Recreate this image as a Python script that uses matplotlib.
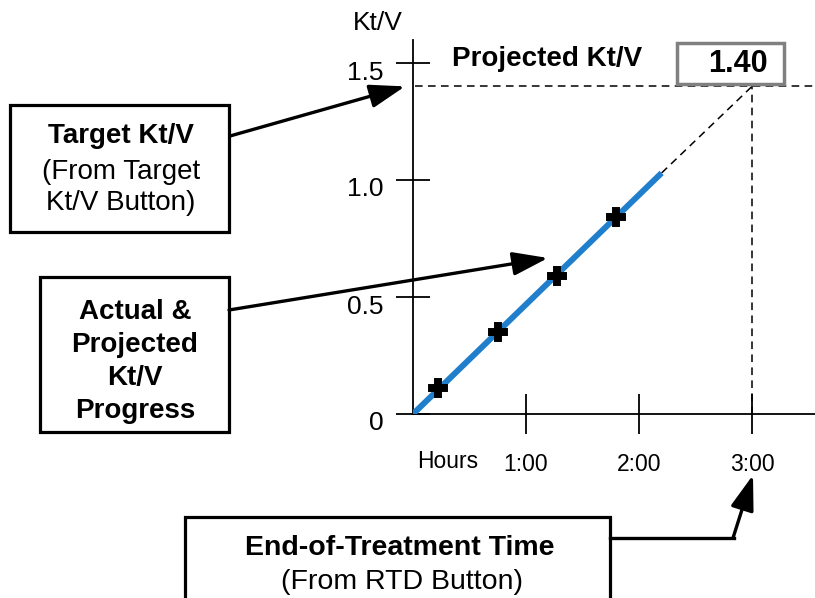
import matplotlib
matplotlib.use('Agg')
import matplotlib.pyplot as plt
from matplotlib.patches import Rectangle, FancyArrowPatch
from matplotlib.lines import Line2D
from matplotlib.transforms import ScaledTranslation

plt.rcParams['font.family'] = ['Liberation Sans', 'DejaVu Sans']

# Kt/V progress over the treatment
measured_hours = [0.22, 0.75, 1.27, 1.80]
measured_ktv = [0.11, 0.35, 0.59, 0.84]
actual_hours = [0.0, 2.2]
actual_ktv = [0.0, 1.03]
projected_hours = [2.2, 3.0]
projected_ktv = [1.03, 1.40]
target_ktv = 1.40
end_time = 3.0

y_ticks = [0, 0.5, 1.0, 1.5]
y_labels = ['0', '0.5', '1.0', '1.5']
x_ticks = [1, 2, 3]
x_labels = ['1:00', '2:00', '3:00']

W, H = 815, 598
fig = plt.figure(figsize=(W / 100, H / 100), dpi=100)


def fpos(x, y):
    # pixel position -> figure fraction
    return (x / W, 1 - y / H)


# origin of the chart in pixels and pixels per unit
ox, oy = 413, 414
px_hour, px_unit = 113, 234
top = 40

ax = fig.add_axes([ox / W, 1 - oy / H, (W - ox) / W, (oy - top) / H])
ax.set_xlim(0, (W - ox) / px_hour)
ax.set_ylim(0, (oy - top) / px_unit)
for s in ['top', 'right']:
    ax.spines[s].set_visible(False)
for s in ['left', 'bottom']:
    ax.spines[s].set_linewidth(1.3)
ax.patch.set_alpha(0)

ax.set_yticks(y_ticks, y_labels)
ax.set_xticks(x_ticks, x_labels)
ax.tick_params(axis='y', direction='inout', length=25, width=1.3,
               labelsize=19, pad=8.4)
ax.tick_params(axis='x', direction='inout', length=28.8, width=1.3,
               labelsize=16.5, pad=13.6)
shift = ScaledTranslation(0, -7 / 100, fig.dpi_scale_trans)
for lab in ax.get_yticklabels():
    lab.set_transform(lab.get_transform() + shift)

# dashed guides
dash = dict(color='black', lw=1.1, dashes=(5, 3.5), clip_on=False)
ax.axhline(target_ktv, xmin=0.005, xmax=1, **dash)
ax.plot([end_time, end_time], [0, target_ktv], **dash)
ax.plot(projected_hours, projected_ktv, **dash)

# actual progress and measurements
ax.plot(actual_hours, actual_ktv, color='#1f7fcc', lw=4.3,
        solid_capstyle='butt', zorder=3)
ax.plot(measured_hours, measured_ktv, 'P', color='black', markersize=13,
        markeredgewidth=1.4, zorder=4)

# axis titles
fig.text(*fpos(378, 23), 'Kt/V', fontsize=19, ha='center', va='center')
fig.text(*fpos(448, 461), 'Hours', fontsize=16.5, ha='center', va='center')

# projected value
fig.text(*fpos(547, 59), 'Projected Kt/V', fontsize=20, fontweight='bold',
         ha='center', va='center')
bx0, by0 = fpos(677, 84)
bx1, by1 = fpos(784, 43)
fig.add_artist(Rectangle((bx0, by0), bx1 - bx0, by1 - by0,
                         transform=fig.transFigure, facecolor='white',
                         edgecolor='#808080', lw=2.5))
fig.text(*fpos(738, 64), f'{target_ktv:.2f}', fontsize=22, fontweight='bold',
         ha='center', va='center')


def box(x0, y0, x1, y1):
    a = fpos(x0, y1)
    b = fpos(x1, y0)
    fig.add_artist(Rectangle(a, b[0] - a[0], b[1] - a[1],
                             transform=fig.transFigure, facecolor='white',
                             edgecolor='black', lw=2.3))


def arrow(p0, p1):
    fig.add_artist(FancyArrowPatch(fpos(*p0), fpos(*p1),
                                   transform=fig.transFigure,
                                   arrowstyle='-|>,head_length=0.9,head_width=0.3',
                                   mutation_scale=24, lw=2.4, color='black',
                                   shrinkA=0, shrinkB=0))


# target box
target_px = oy - target_ktv * px_unit
box(10, 105, 229, 232)
fig.text(*fpos(121, 136), 'Target Kt/V', fontsize=20, fontweight='bold',
         ha='center', va='center')
fig.text(*fpos(121, 172), '(From Target', fontsize=20, ha='center', va='center')
fig.text(*fpos(121, 203), 'Kt/V Button)', fontsize=20, ha='center', va='center')
arrow((230, 136), (405, target_px))

# progress box
box(40, 277, 229, 432)
for i, t in enumerate(['Actual &', 'Projected', 'Kt/V', 'Progress']):
    fig.text(*fpos(135, 312 + 33 * i), t, fontsize=20, fontweight='bold',
             ha='center', va='center')
arrow((229, 310), (548, 258))

# end-of-treatment box
box(185, 517, 610, 610)
fig.text(*fpos(400, 548), 'End-of-Treatment Time', fontsize=20.5,
         fontweight='bold', ha='center', va='center')
fig.text(*fpos(402, 582), '(From RTD Button)', fontsize=20.5,
         ha='center', va='center')
p0, p1 = fpos(610, 538), fpos(734, 538)
fig.add_artist(Line2D([p0[0], p1[0]], [p0[1], p1[1]], transform=fig.transFigure,
                      color='black', lw=2.4))
arrow((733, 538), (753, 475))

fig.savefig('out.png', dpi=100)
